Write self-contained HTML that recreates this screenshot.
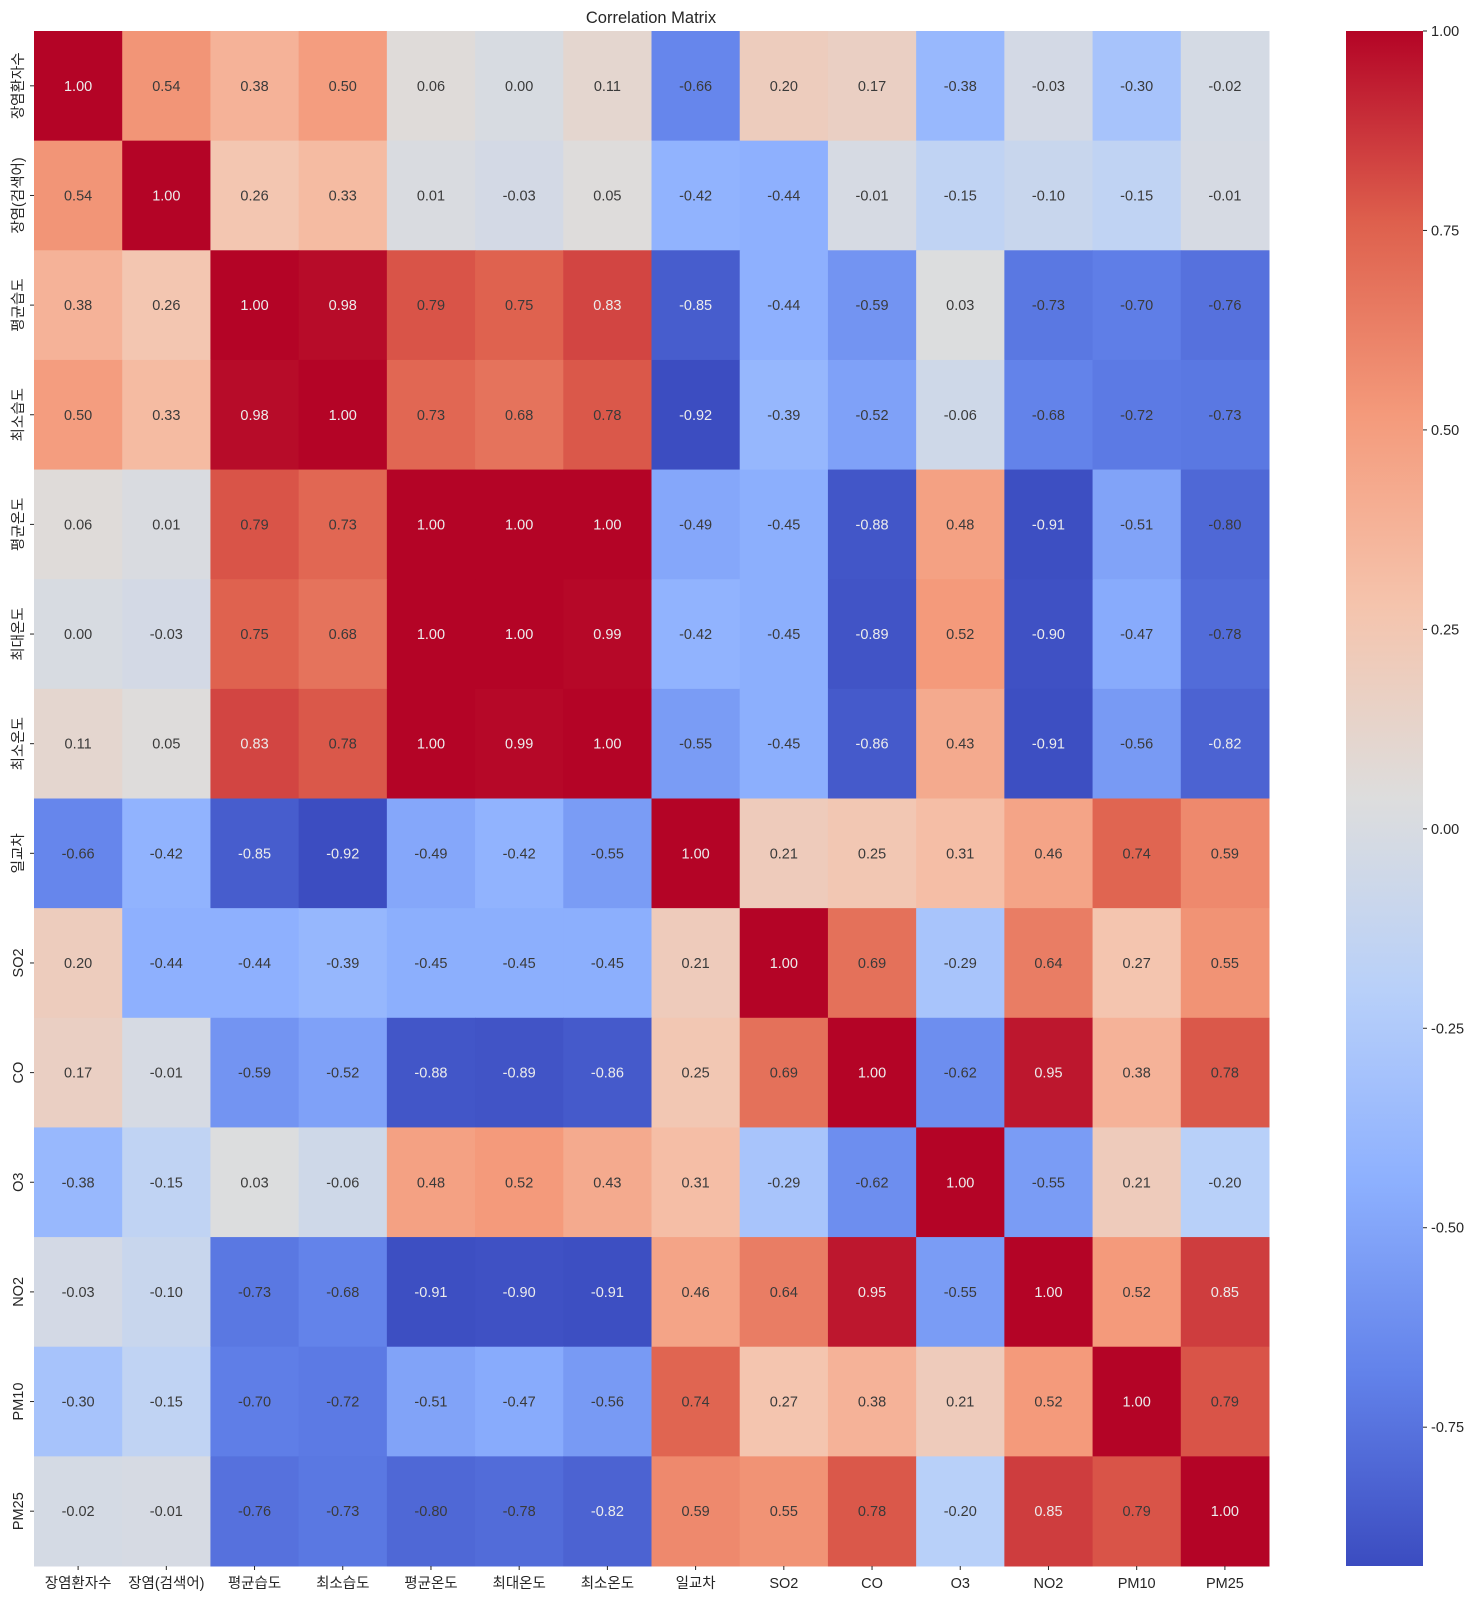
<!DOCTYPE html>
<html><head><meta charset="utf-8"><style>
body{margin:0;background:#fff;}
svg text{font-family:"Liberation Sans","Noto Sans CJK KR",sans-serif;}
</style></head><body>
<svg id="chart" width="1477" height="1600" xmlns="http://www.w3.org/2000/svg">
<text x="651" y="23" text-anchor="middle" font-size="16.5" fill="#262626">Correlation Matrix</text>
<g id="cells"></g><g id="xlabels"></g><g id="ylabels"></g><g id="cbar"></g>
</svg>
<script>
const labels=["장염환자수","장염(검색어)","평균습도","최소습도","평균온도","최대온도","최소온도","일교차","SO2","CO","O3","NO2","PM10","PM25"];
const row0=[1.00,0.54,0.38,0.50,0.06,0.00,0.11,-0.66,0.20,0.17,-0.38,-0.03,-0.30,-0.02];
const row1=[0.54,1.00,0.26,0.33,0.01,-0.03,0.05,-0.42,-0.44,-0.01,-0.15,-0.10,-0.15,-0.01];
const row2=[0.38,0.26,1.00,0.98,0.79,0.75,0.83,-0.85,-0.44,-0.59,0.03,-0.73,-0.70,-0.76];
const row3=[0.50,0.33,0.98,1.00,0.73,0.68,0.78,-0.92,-0.39,-0.52,-0.06,-0.68,-0.72,-0.73];
const row4=[0.06,0.01,0.79,0.73,1.00,1.00,1.00,-0.49,-0.45,-0.88,0.48,-0.91,-0.51,-0.80];
const row5=[0.00,-0.03,0.75,0.68,1.00,1.00,0.99,-0.42,-0.45,-0.89,0.52,-0.90,-0.47,-0.78];
const row6=[0.11,0.05,0.83,0.78,1.00,0.99,1.00,-0.55,-0.45,-0.86,0.43,-0.91,-0.56,-0.82];
const row7=[-0.66,-0.42,-0.85,-0.92,-0.49,-0.42,-0.55,1.00,0.21,0.25,0.31,0.46,0.74,0.59];
const row8=[0.20,-0.44,-0.44,-0.39,-0.45,-0.45,-0.45,0.21,1.00,0.69,-0.29,0.64,0.27,0.55];
const row9=[0.17,-0.01,-0.59,-0.52,-0.88,-0.89,-0.86,0.25,0.69,1.00,-0.62,0.95,0.38,0.78];
const row10=[-0.38,-0.15,0.03,-0.06,0.48,0.52,0.43,0.31,-0.29,-0.62,1.00,-0.55,0.21,-0.20];
const row11=[-0.03,-0.10,-0.73,-0.68,-0.91,-0.90,-0.91,0.46,0.64,0.95,-0.55,1.00,0.52,0.85];
const row12=[-0.30,-0.15,-0.70,-0.72,-0.51,-0.47,-0.56,0.74,0.27,0.38,0.21,0.52,1.00,0.79];
const row13=[-0.02,-0.01,-0.76,-0.73,-0.80,-0.78,-0.82,0.59,0.55,0.78,-0.20,0.85,0.79,1.00];
const matrix=[row0,row1,row2,row3,row4,row5,row6,row7,row8,row9,row10,row11,row12,row13];
const cbTicks=[1.00,0.75,0.50,0.25,0.00,-0.25,-0.50,-0.75];
const vmin=-0.924, vmax=1.0;

const NS="http://www.w3.org/2000/svg";
const X0=34,X1=1269,Y0=31,Y1=1566,n=labels.length;
const cw=(X1-X0)/n, ch=(Y1-Y0)/n;
const cmap=[[59,76,192],[98,130,234],[141,176,254],[184,208,249],[221,221,221],[245,196,173],[244,154,123],[222,96,77],[180,4,38]];
function color(v){let t=(v-vmin)/(vmax-vmin);t=Math.max(0,Math.min(1,t));const p=t*8,i=Math.min(7,Math.floor(p)),f=p-i;
 const c=cmap[i].map((a,k)=>Math.round(a+(cmap[i+1][k]-a)*f));return c;}
function rgb(c){return `rgb(${c[0]},${c[1]},${c[2]})`;}
function mk(tag,attrs,parent){const e=document.createElementNS(NS,tag);for(const k in attrs)e.setAttribute(k,attrs[k]);parent.appendChild(e);return e;}
const cells=document.getElementById('cells');
matrix.forEach((row,r)=>row.forEach((v,c)=>{
 const col=color(v);
 const rect=mk('rect',{x:X0+c*cw,y:Y0+r*ch,width:cw+0.5,height:ch+0.5,fill:rgb(col)},cells);
 
 
 const lum=(0.2126*col[0]+0.7152*col[1]+0.0722*col[2])/255;
 const t=mk('text',{x:X0+(c+0.5)*cw,y:Y0+(r+0.5)*ch+5,'text-anchor':'middle','font-size':14.5,fill:lum<0.408?'#ececec':'#3a3a3a'},cells);
 t.textContent=v.toFixed(2);
 
 
}));
const xl=document.getElementById('xlabels'),yl=document.getElementById('ylabels');
labels.forEach((l,i)=>{
 const cx=X0+(i+0.5)*cw;
 mk('line',{x1:cx,x2:cx,y1:Y1,y2:Y1+4,stroke:'#262626'},xl);
 const t=mk('text',{x:cx,y:Y1+22,'text-anchor':'middle','font-size':14.5,fill:'#262626'},xl);
 t.textContent=l;
 
 
 const cy=Y0+(i+0.5)*ch;
 mk('line',{x1:X0-4,x2:X0,y1:cy,y2:cy,stroke:'#262626'},yl);
 const u=mk('text',{x:0,y:0,'text-anchor':'middle','font-size':14.5,fill:'#262626',transform:`translate(${X0-11},${cy}) rotate(-90)`},yl);
 u.textContent=l;
 
 
});
const cb=document.getElementById('cbar');
const CX=1346,CW=77;
const defs=mk('defs',{},cb);
const g=mk('linearGradient',{id:'cbg',x1:0,y1:1,x2:0,y2:0},defs);
for(let i=0;i<=16;i++){const v=vmin+(vmax-vmin)*i/16;mk('stop',{offset:i/16,'stop-color':rgb(color(v))},g);}
const cr=mk('rect',{x:CX,y:Y0,width:CW,height:Y1-Y0,fill:'url(#cbg)'},cb);


function cyv(v){return Y1-(v-vmin)/(vmax-vmin)*(Y1-Y0);}
cbTicks.forEach(v=>{
 const y=cyv(v);
 mk('line',{x1:CX+CW,x2:CX+CW+4,y1:y,y2:y,stroke:'#262626'},cb);
 const t=mk('text',{x:CX+CW+8,y:y+5,'font-size':14.5,fill:'#262626'},cb);
 t.textContent=v.toFixed(2);
 
 
});
</script>
</body></html>
